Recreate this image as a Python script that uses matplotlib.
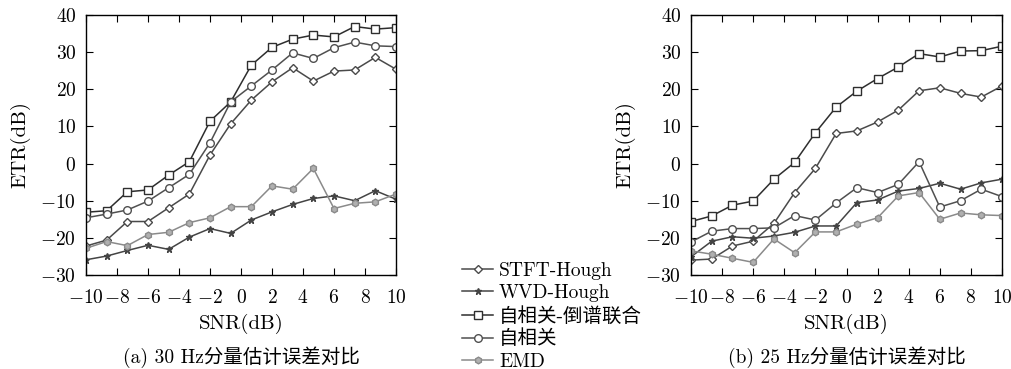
import numpy as np
import matplotlib
matplotlib.use("Agg")
from matplotlib import pyplot as plt

plt.rcParams['font.family'] = ['cmr10', 'Noto Sans CJK SC']
plt.rcParams['mathtext.fontset'] = 'cm'
plt.rcParams['axes.formatter.use_mathtext'] = True
plt.rcParams['axes.unicode_minus'] = True

# SNR points (16 per curve)
snr = np.linspace(-10, 10, 16)

names = ["STFT-Hough", "WVD-Hough", "自相关-倒谱联合", "自相关", "EMD"]

# (a) 30 Hz
stft_a = [-22.2, -20.6, -15.6, -15.6, -11.9, -8.2, 2.3, 10.7, 17.1, 22.0, 25.8, 22.2, 24.9, 25.2, 28.6, 25.4]
wvd_a = [-25.9, -24.9, -23.4, -22.0, -23.1, -19.8, -17.5, -18.8, -15.2, -13.0, -11.0, -9.4, -8.7, -10.0, -7.3, -9.6]
joint_a = [-13.1, -12.7, -7.6, -7.1, -3.1, 0.5, 11.4, 16.6, 26.5, 31.3, 33.5, 34.6, 34.1, 36.9, 36.2, 36.6]
acorr_a = [-14.6, -13.6, -12.5, -10.1, -6.5, -2.9, 5.6, 16.6, 20.9, 25.2, 29.8, 28.3, 31.2, 32.7, 31.7, 31.5]
emd_a = [-22.8, -21.0, -22.1, -19.1, -18.5, -15.9, -14.6, -11.6, -11.6, -6.0, -6.9, -1.3, -12.1, -10.7, -10.3, -8.2]

# (b) 25 Hz
stft_b = [-26.0, -25.7, -22.2, -20.9, -16.1, -7.8, -1.3, 8.1, 8.8, 11.2, 14.4, 19.6, 20.4, 18.9, 17.9, 20.9]
wvd_b = [-25.1, -20.9, -19.7, -20.1, -19.5, -18.5, -16.8, -16.8, -10.5, -9.8, -7.4, -6.7, -5.3, -6.9, -5.2, -4.2]
joint_b = [-15.6, -14.1, -11.2, -10.1, -4.2, 0.3, 8.3, 15.2, 19.5, 22.9, 26.0, 29.6, 28.7, 30.3, 30.4, 31.6]
acorr_b = [-21.1, -18.2, -17.5, -17.5, -17.3, -14.0, -15.2, -10.6, -6.5, -7.8, -5.6, 0.5, -11.7, -10.0, -6.9, -8.9]
emd_b = [-23.5, -24.4, -25.5, -26.6, -20.3, -24.0, -18.4, -18.4, -16.3, -14.6, -8.7, -7.8, -15.0, -13.3, -13.8, -14.0]

captions = ["(a) 30 Hz分量估计误差对比", "(b) 25 Hz分量估计误差对比"]

styles = [
    dict(color="#4a4a4a", marker="D", ms=3.8, mfc="white"),
    dict(color="#444444", marker="*", ms=5, mfc="#444444"),
    dict(color="#2e2e2e", marker="s", ms=5.3, mfc="white"),
    dict(color="#505050", marker="o", ms=5.5, mfc="white"),
    dict(color="#8a8a8a", marker="h", ms=4.8, mfc="#b0b0b0"),
]

fig = plt.figure(figsize=(10.12, 3.69), dpi=100)
ax1 = fig.add_axes([86/1012, 1-275/369, 310/1012, 260/369])
ax2 = fig.add_axes([691/1012, 1-275/369, 311/1012, 260/369])

handles = []
for ax, data, cap in [(ax1, [stft_a, wvd_a, joint_a, acorr_a, emd_a], captions[0]),
                      (ax2, [stft_b, wvd_b, joint_b, acorr_b, emd_b], captions[1])]:
    hs = []
    for ys, st, nm in zip(data, styles, names):
        h, = ax.plot(snr, ys, lw=1.1, mew=1.0, label=nm, mec=st["color"], **st)
        hs.append(h)
    handles = hs
    ax.set_xlim(-10, 10)
    ax.set_ylim(-30, 40)
    ax.set_xticks(range(-10, 11, 2))
    ax.set_yticks(range(-30, 41, 10))
    ax.tick_params(direction="in", top=True, right=True, labelsize=14, length=5, width=0.8)
    ax.tick_params(axis="x", pad=10)
    ax.tick_params(axis="y", pad=7)
    for s in ax.spines.values():
        s.set_linewidth(1.0)
    ax.set_xlabel("SNR(dB)", fontsize=15, labelpad=5)
    ax.set_ylabel("ETR(dB)", fontsize=15, labelpad=7)
    ax.text(0.5, -0.275, cap, transform=ax.transAxes, ha="center", va="top", fontsize=14)

fig.legend(handles=handles, labels=names, loc="upper left", bbox_to_anchor=(462/1012, 1-262/369),
           frameon=False, fontsize=14, handlelength=1.6, handletextpad=0.3, labelspacing=0.22,
           borderaxespad=0, borderpad=0)

fig.savefig("out.png", dpi=100)
